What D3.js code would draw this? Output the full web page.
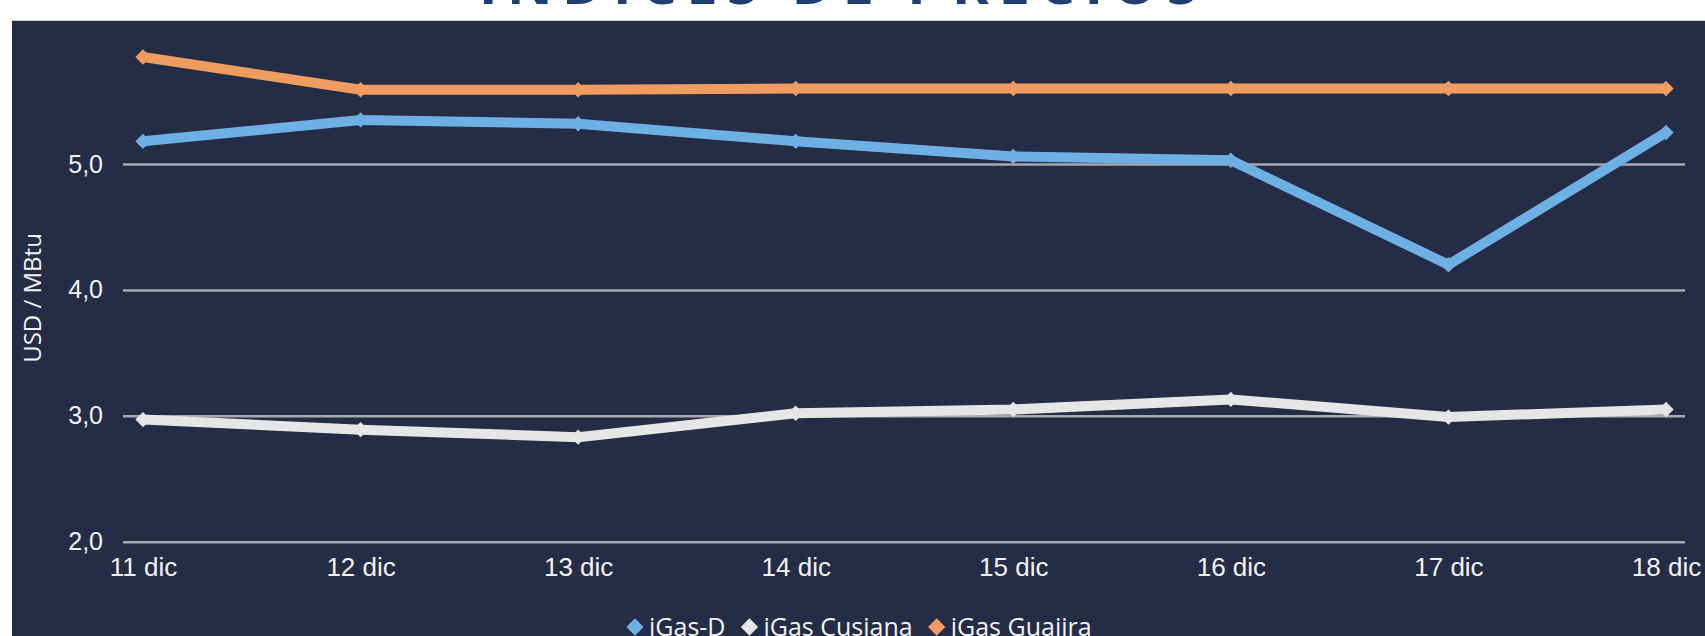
<!DOCTYPE html>
<html>
<head>
<meta charset="utf-8">
<script src="https://cdn.jsdelivr.net/npm/d3@7"></script>
<style>
	html, body { margin: 0; padding: 0; background: #fff; }
	svg { display: block; font-family: 'Open Sans', 'Noto Sans', sans-serif; }
</style>
</head>
<body>
<div class="graphic__precios"></div>
<script>
const days = ['11 dic', '12 dic', '13 dic', '14 dic', '15 dic', '16 dic', '17 dic', '18 dic']
const yTicks = [2, 3, 4, 5]
const igasD = [5.18, 5.35, 5.32, 5.18, 5.06, 5.03, 4.2, 5.25]
const igasCusiana = [2.97, 2.89, 2.83, 3.02, 3.05, 3.13, 2.99, 3.05]
const igasGuajira = [5.85, 5.59, 5.59, 5.6, 5.6, 5.6, 5.6, 5.6]
const seriesNames = ['iGas-D', 'iGas Cusiana', 'iGas Guajira']
const seriesColors = ['#6eafe4', '#e6e6e6', '#ef9c61']

const width = 1705
const height = 636
const scale = { x: null, y: null }

function createChart() {
	const series = [igasD, igasCusiana, igasGuajira].map((values, i) => ({
		name: seriesNames[i],
		color: seriesColors[i],
		values: values.map((v, j) => ({ day: days[j], value: v })),
	}))

	const svg = d3.select('.graphic__precios').append('svg')
		.attr('width', width)
		.attr('height', height)

	// title, mostly cut off above the picture
	svg.append('text')
		.attr('x', 843)
		.attr('y', 4)
		.attr('text-anchor', 'middle')
		.attr('font-size', 56)
		.attr('font-weight', 'bold')
		.attr('letter-spacing', 9.5)
		.attr('fill', '#1f3f73')
		.text('INDICES DE PRECIOS')

	svg.append('rect')
		.attr('x', 12)
		.attr('y', 20)
		.attr('width', width - 12)
		.attr('height', height - 20)
		.attr('fill', '#252c46')
	svg.append('line')
		.attr('x1', 12).attr('x2', width)
		.attr('y1', 20.5).attr('y2', 20.5)
		.attr('stroke', '#c9c9c9')
		.attr('stroke-width', 1)

	scale.x = d3.scalePoint()
		.domain(days)
		.range([143, 1666])
	scale.y = d3.scaleLinear()
		.domain([2, 5])
		.range([541.7, 164])

	// gridlines + y labels
	const yAxis = d3.axisLeft(scale.y)
		.tickValues(yTicks)
		.tickSize(-(1685 - 123))
		.tickPadding(20)
		.tickFormat(d => d3.format('.1f')(d).replace('.', ','))
	const gy = svg.append('g')
		.attr('transform', 'translate(123,0)')
		.call(yAxis)
	gy.select('.domain').remove()
	gy.selectAll('.tick line')
		.attr('stroke', '#a9a9ad')
		.attr('stroke-width', 2.5)
	gy.selectAll('.tick text')
		.attr('fill', '#f2f2f2')
		.attr('font-size', 25)
		.attr('font-family', null)

	// x labels
	const xAxis = d3.axisBottom(scale.x).tickSize(0).tickPadding(0)
	const gx = svg.append('g')
		.attr('transform', 'translate(0,541.7)')
		.call(xAxis)
	gx.select('.domain').remove()
	gx.selectAll('.tick text')
		.attr('fill', '#f2f2f2')
		.attr('font-size', 26)
		.attr('font-family', null)
		.attr('dy', null)
		.attr('y', 34)

	svg.append('text')
		.attr('transform', 'translate(41,298) rotate(-90)')
		.attr('text-anchor', 'middle')
		.attr('fill', '#f2f2f2')
		.attr('font-size', 24)
		.text('USD / MBtu')

	const line = d3.line()
		.x(d => scale.x(d.day))
		.y(d => scale.y(d.value))
	const diamond = d3.symbol().type(d3.symbolDiamond2).size(150)

	const g = svg.append('g')
	const s = g.selectAll('g.series')
		.data(series)
		.enter().append('g')
			.attr('class', 'series')
	s.append('path')
		.attr('d', d => line(d.values))
		.attr('fill', 'none')
		.attr('stroke', d => d.color)
		.attr('stroke-width', 10)
		.attr('stroke-linejoin', 'round')
	s.selectAll('path.mark')
		.data(d => d.values.map(v => ({ ...v, color: d.color })))
		.enter().append('path')
			.attr('class', 'mark')
			.attr('d', diamond)
			.attr('transform', d => `translate(${scale.x(d.day)},${scale.y(d.value)})`)
			.attr('fill', d => d.color)

	// legend
	const legend = svg.append('g')
	let lx = 626
	series.forEach(d => {
		legend.append('path')
			.attr('d', d3.symbol().type(d3.symbolDiamond2).size(190))
			.attr('transform', `translate(${lx + 9},627)`)
			.attr('fill', d.color)
		const t = legend.append('text')
			.attr('x', lx + 23)
			.attr('y', 636)
			.attr('fill', '#f2f2f2')
			.attr('font-size', 25)
			.text(d.name)
		lx += 23 + t.node().getComputedTextLength() + 15
	})
}

createChart()
</script>
</body>
</html>
